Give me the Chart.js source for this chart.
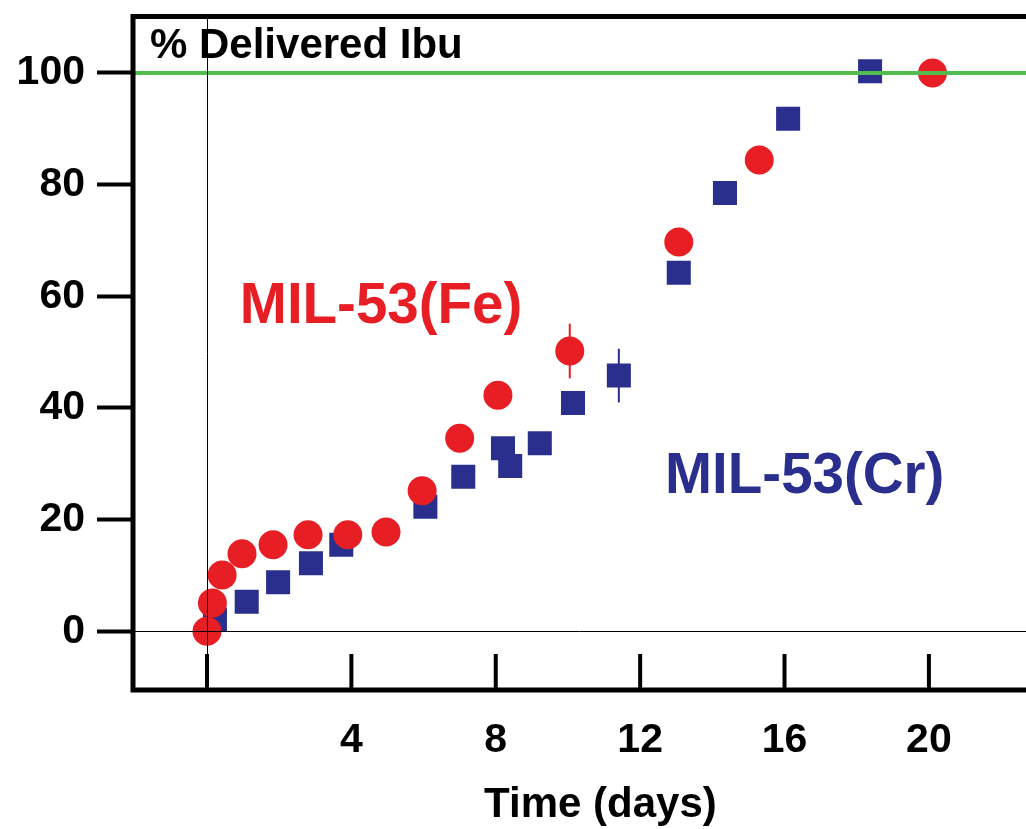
<!DOCTYPE html>
<html>
<head>
<meta charset="utf-8">
<script src="https://cdn.jsdelivr.net/npm/chart.js@4.4.1/dist/chart.umd.min.js"></script>
<style>
  html, body { margin: 0; padding: 0; background: #fff; }
  #wrap { width: 1026px; height: 829px; }
  canvas { display: block; }
</style>
</head>
<body>
<div id="wrap"><canvas id="release" width="1026" height="829"></canvas></div>
<script>
// MIL-53(Fe) release, red circles
const feDays = [0, 0.15, 0.42, 0.97, 1.83, 2.8, 3.9, 4.96, 5.96, 7.0, 8.06, 10.05, 13.07, 15.3, 20.1];
const feValues = [0, 5.1, 10.1, 13.9, 15.5, 17.3, 17.3, 17.8, 25.2, 34.6, 42.3, 50.2, 69.7, 84.4, 100];
const feErrors = [0, 0, 0, 0, 0, 0, 0, 0, 0, 0, 0, 4.9, 0, 0, 0];

// MIL-53(Cr) release, blue squares
const crDays = [0.22, 1.1, 1.97, 2.88, 3.72, 6.05, 7.1, 8.2, 8.4, 9.22, 10.14, 11.41, 13.07, 14.35, 16.1, 18.37];
const crValues = [2.1, 5.3, 8.8, 12.2, 15.5, 22.3, 27.7, 32.8, 29.6, 33.7, 40.9, 45.8, 64.2, 78.5, 91.8, 100.3];
const crErrors = [0, 0, 0, 0, 0, 0, 0, 0, 0, 0, 0, 4.8, 0, 0, 0, 0];

const xTicks = [0, 4, 8, 12, 16, 20];
const yTicks = [0, 20, 40, 60, 80, 100];
const fullRelease = 100;

const RED = '#e81e25';
const BLUE = '#2a2f8e';
const GREEN = '#52bc4f';
const FONT = "'Liberation Sans', Arial, sans-serif";

const toPoints = (xs, ys) => xs.map((x, i) => ({ x: x, y: ys[i] }));

// drop the extra room chart.js keeps for edge labels
function fixAxis(s, size) {
  if (s.isHorizontal()) s.height = size; else s.width = size;
  s.paddingTop = 0;
  s.paddingBottom = 0;
  s.paddingLeft = 0;
  s.paddingRight = 0;
}

const errorBars = {
  id: 'errorBars',
  beforeDatasetsDraw(chart) {
    const { ctx, scales: { x, y } } = chart;
    const sets = [[feDays, feValues, feErrors, RED], [crDays, crValues, crErrors, BLUE]];
    ctx.save();
    ctx.lineWidth = 2;
    sets.forEach(([xs, ys, es, col]) => {
      xs.forEach((d, i) => {
        if (!es[i]) return;
        const px = x.getPixelForValue(d);
        ctx.strokeStyle = col;
        ctx.beginPath();
        ctx.moveTo(px, y.getPixelForValue(ys[i] - es[i]));
        ctx.lineTo(px, y.getPixelForValue(ys[i] + es[i]));
        ctx.stroke();
      });
    });
    ctx.restore();
  }
};

const decorations = {
  id: 'decorations',
  afterDatasetsDraw(chart) {
    const { ctx, chartArea: a, scales: { x, y } } = chart;
    ctx.save();

    // 100 % line
    const y100 = y.getPixelForValue(fullRelease);
    ctx.strokeStyle = GREEN;
    ctx.lineWidth = 4;
    ctx.beginPath();
    ctx.moveTo(a.left, y100);
    ctx.lineTo(a.right, y100);
    ctx.stroke();

    // thin zero lines
    ctx.strokeStyle = '#000';
    ctx.lineWidth = 1;
    const x0 = Math.round(x.getPixelForValue(0)) + 0.5;
    const y0 = Math.round(y.getPixelForValue(0)) + 0.5;
    ctx.beginPath();
    ctx.moveTo(x0, a.top);
    ctx.lineTo(x0, a.bottom);
    ctx.moveTo(a.left, y0);
    ctx.lineTo(a.right, y0);
    ctx.stroke();

    // inward x ticks
    ctx.lineWidth = 4;
    xTicks.forEach(v => {
      const px = x.getPixelForValue(v);
      ctx.beginPath();
      ctx.moveTo(px, a.bottom);
      ctx.lineTo(px, a.bottom - 36);
      ctx.stroke();
    });

    // frame: left, top, bottom
    ctx.lineWidth = 5;
    ctx.beginPath();
    ctx.moveTo(a.left, a.bottom + 2.5);
    ctx.lineTo(a.left, a.top - 2.5);
    ctx.moveTo(a.left, a.top);
    ctx.lineTo(a.right, a.top);
    ctx.moveTo(a.left, a.bottom);
    ctx.lineTo(a.right, a.bottom);
    ctx.stroke();

    // texts
    ctx.textBaseline = 'alphabetic';
    ctx.textAlign = 'left';
    ctx.fillStyle = '#000';
    ctx.font = 'bold 42px ' + FONT;
    ctx.fillText('% Delivered Ibu', a.left + 17, a.top + 41);

    ctx.textAlign = 'center';
    ctx.fillText('Time (days)', x.getPixelForValue(10.9), a.bottom + 127);

    ctx.textAlign = 'left';
    ctx.font = 'bold 56.5px ' + FONT;
    ctx.fillStyle = RED;
    ctx.fillText('MIL-53(Fe)', x.getPixelForValue(0.91), y.getPixelForValue(55.2));
    ctx.fillStyle = BLUE;
    ctx.fillText('MIL-53(Cr)', x.getPixelForValue(12.69), y.getPixelForValue(24.8));

    ctx.restore();
  }
};

new Chart(document.getElementById('release'), {
  type: 'scatter',
  data: {
    datasets: [
      {
        label: 'MIL-53(Fe)',
        data: toPoints(feDays, feValues),
        pointStyle: 'circle',
        pointRadius: 14.5,
        pointHoverRadius: 14.5,
        backgroundColor: RED,
        borderWidth: 0
      },
      {
        label: 'MIL-53(Cr)',
        data: toPoints(crDays, crValues),
        pointStyle: 'rect',
        pointRadius: 17,
        pointHoverRadius: 17,
        backgroundColor: BLUE,
        borderWidth: 0
      }
    ]
  },
  options: {
    responsive: false,
    animation: false,
    layout: { autoPadding: false, padding: { top: 16.5, right: 0, bottom: 0, left: 0 } },
    plugins: {
      legend: { display: false },
      tooltip: { enabled: false }
    },
    scales: {
      x: {
        type: 'linear',
        min: -2.05,
        max: 22.69,
        afterBuildTicks: s => { s.ticks = xTicks.map(v => ({ value: v })); },
        afterFit: s => fixAxis(s, 139),
        border: { display: false },
        grid: { drawOnChartArea: false, drawTicks: false },
        ticks: {
          color: '#000',
          padding: 26,
          font: { family: FONT, size: 41, weight: 'bold' },
          callback: v => (v === 0 ? '' : v)
        }
      },
      y: {
        type: 'linear',
        min: -10.5,
        max: 110.1,
        afterBuildTicks: s => { s.ticks = yTicks.map(v => ({ value: v })); },
        afterFit: s => fixAxis(s, 133),
        border: { display: false },
        grid: { drawOnChartArea: false, drawTicks: true, tickLength: 36, tickWidth: 4, tickColor: '#000' },
        ticks: {
          color: '#000',
          padding: 12,
          font: { family: FONT, size: 41, weight: 'bold' }
        }
      }
    }
  },
  plugins: [errorBars, decorations]
});
</script>
</body>
</html>
